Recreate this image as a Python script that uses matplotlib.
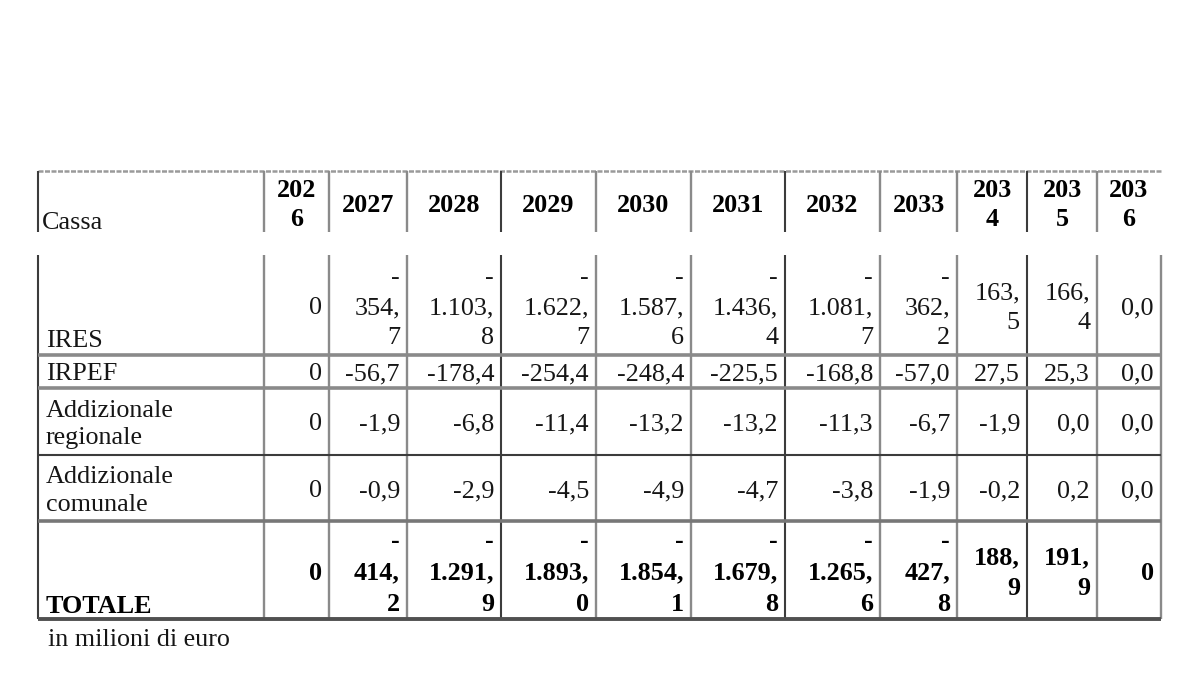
import matplotlib
matplotlib.use("Agg")
import matplotlib.pyplot as plt

# ---------------- data ----------------
years = ["2026", "2027", "2028", "2029", "2030", "2031", "2032", "2033", "2034", "2035", "2036"]
corner_label = "Cassa"
row_labels = ["IRES", "IRPEF", "Addizionale\nregionale", "Addizionale\ncomunale", "TOTALE"]
ires = ["0", "-354,7", "-1.103,8", "-1.622,7", "-1.587,6", "-1.436,4", "-1.081,7", "-362,2", "163,5", "166,4", "0,0"]
irpef = ["0", "-56,7", "-178,4", "-254,4", "-248,4", "-225,5", "-168,8", "-57,0", "27,5", "25,3", "0,0"]
add_regionale = ["0", "-1,9", "-6,8", "-11,4", "-13,2", "-13,2", "-11,3", "-6,7", "-1,9", "0,0", "0,0"]
add_comunale = ["0", "-0,9", "-2,9", "-4,5", "-4,9", "-4,7", "-3,8", "-1,9", "-0,2", "0,2", "0,0"]
totale = ["0", "-414,2", "-1.291,9", "-1.893,0", "-1.854,1", "-1.679,8", "-1.265,6", "-427,8", "188,9", "191,9", "0"]
caption = "in milioni di euro"

rows = [ires, irpef, add_regionale, add_comunale, totale]

# ---------------- layout (pixels) ----------------
col_edges = [38, 264, 329, 407, 501, 596, 691, 785, 880, 957, 1027, 1097, 1161]
header_top, header_bot = 171, 232
body_top = 255
row_edges = [255, 355, 388, 455, 521, 619]
tall_rows = {0, 4}          # rows whose long numbers wrap on several lines
bold_rows = {4}
label_bottom = {0: 347, 4: 613}  # baseline of bottom-aligned labels

FONT = ["Liberation Serif", "DejaVu Serif"]
FS = 18.8
TXT = "#161616"
LINE = "#8a8a8a"
DARK = "#3c3c3c"

fig = plt.figure(figsize=(12, 6.76), dpi=100)
ax = fig.add_axes([0, 0, 1, 1])
ax.set_xlim(0, 1200)
ax.set_ylim(676, 0)
ax.axis("off")


def wrap_number(s):
    if len(s) <= 3 or "," not in s:
        return s
    ip, dec = s.split(",")
    lines = []
    if ip.startswith("-"):
        lines.append("-")
        ip = ip[1:]
    lines += [ip + ",", dec]
    return "\n".join(lines)


def wrap_year(y, width):
    return y[:3] + "\n" + y[3:] if width < 72 else y


# ---------------- grid lines ----------------
ax.plot([col_edges[0], col_edges[-1]], [header_top, header_top], color="#9a9a9a", lw=1.8,
        ls=(0, (2, 0.6)), solid_capstyle="butt")
dark_cols = {0, 4, 7, 10}
for i, x in enumerate(col_edges):
    c = DARK if i in dark_cols else LINE
    lw = 1.5 if i in dark_cols else 1.7
    if i < len(col_edges) - 1:
        ax.plot([x, x], [header_top, header_bot], color=c, lw=lw, solid_capstyle="butt")
    ax.plot([x, x], [body_top, row_edges[-1]], color=c, lw=lw, solid_capstyle="butt")

h_styles = {355: (LINE, 2.6), 388: (LINE, 2.6), 455: (DARK, 1.5),
            521: ("#777777", 2.6), 619: ("#505050", 2.8)}
for y in row_edges[1:]:
    c, lw = h_styles[y]
    ax.plot([col_edges[0], col_edges[-1]], [y, y], color=c, lw=lw, solid_capstyle="butt")

# ---------------- header text ----------------
ax.text(col_edges[0] + 4, 229, corner_label, family=FONT, fontsize=FS, color=TXT,
        ha="left", va="baseline")
for j, yr in enumerate(years):
    x0, x1 = col_edges[j + 1], col_edges[j + 2]
    ax.text((x0 + x1) / 2, 205, wrap_year(yr, x1 - x0), family=FONT, fontsize=FS,
            fontweight="bold", color="black", ha="center", va="center",
            multialignment="center", linespacing=1.3)

# ---------------- body ----------------
for r, (label, vals) in enumerate(zip(row_labels, rows)):
    y0, y1 = row_edges[r], row_edges[r + 1]
    yc = (y0 + y1) / 2
    weight = "bold" if r in bold_rows else "normal"
    col = "black" if r in bold_rows else TXT
    if r in label_bottom:
        ax.text(col_edges[0] + 8, label_bottom[r], label, family=FONT, fontsize=FS,
                fontweight=weight, color=col, ha="left", va="baseline")
    else:
        ax.text(col_edges[0] + 8, yc + 3, label, family=FONT, fontsize=FS,
                fontweight=weight, color=col, ha="left", va="center",
                linespacing=1.3)
    for j, v in enumerate(vals):
        s = wrap_number(v) if r in tall_rows else v
        xr = col_edges[j + 2] - 7
        ax.text(xr, yc + 3, s, family=FONT, fontsize=FS, fontweight=weight, color=col,
                ha="right", va="center", multialignment="right", linespacing=1.45)

ax.text(col_edges[0] + 10, 640, caption, family=FONT, fontsize=FS, color=TXT,
        ha="left", va="center")

fig.savefig("out.png", dpi=100, facecolor="white")
